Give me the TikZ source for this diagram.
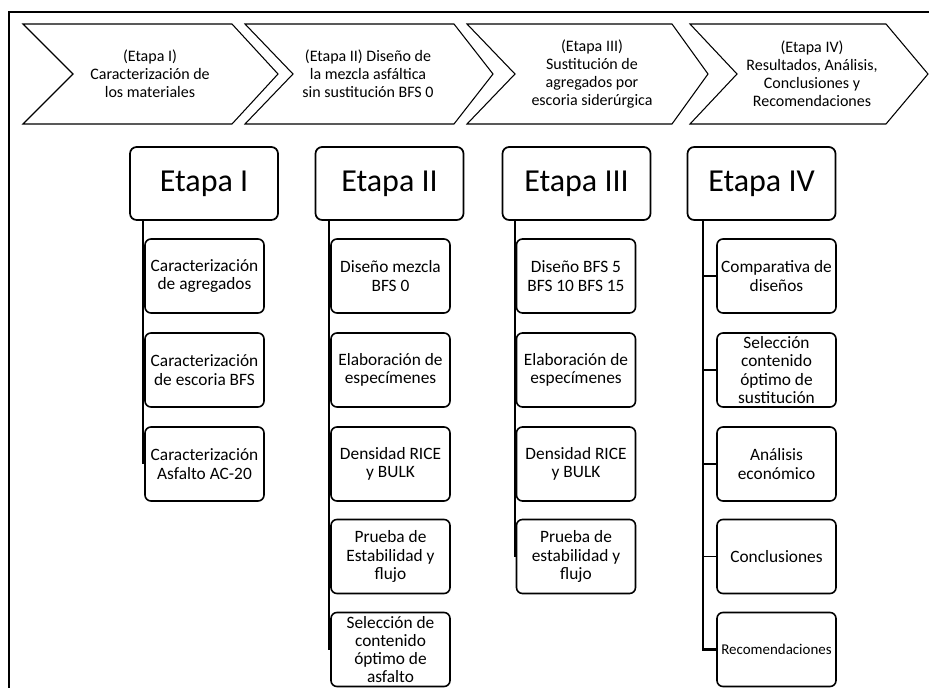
\documentclass[tikz,border=0pt]{standalone}
\usepackage{fontspec}
\setmainfont{Carlito}
\begin{document}
\begin{tikzpicture}[x=0.75pt,y=-0.75pt,
  chev/.style={draw,line width=0.8pt,line join=miter},
  chevtext/.style={align=center,font=\fontsize{12}{13.5}\selectfont,inner sep=0pt},
  head/.style={draw,line width=1.3pt,rounded corners=5pt,minimum width=111pt,minimum height=54.75pt,font=\fontsize{24}{28}\selectfont,inner sep=0pt},
  child/.style={draw,line width=1.2pt,rounded corners=4.5pt,minimum width=89.25pt,minimum height=55.5pt,align=center,font=\fontsize{13}{13.7}\selectfont,inner sep=0pt},
  trunk/.style={line width=1.4pt},
  trunkiv/.style={line width=2pt},
  stub/.style={line width=0.8pt}]
\useasboundingbox (0,0) rectangle (929,688);
% frame
\draw[line width=1.2pt] (9,688) -- (9,12) -- (929,12);
% chevrons
\draw[chev] (23,24) -- (232,24) -- (278,74) -- (232,124) -- (23,124) -- (73,74) -- cycle;
\draw[chev] (245,24) -- (454,24) -- (493,74) -- (454,124) -- (245,124) -- (293,74) -- cycle;
\draw[chev] (467,24) -- (672,24) -- (708,74) -- (672,124) -- (467,124) -- (515,74) -- cycle;
\draw[chev] (690,24) -- (886,24) -- (928,74) -- (886,124) -- (690,124) -- (737,74) -- cycle;
\node[chevtext] (s1) at (150,74) {(Etapa I)\\Caracterización de\\los materiales};
\node[chevtext] (s2) at (368,74) {(Etapa II) Diseño de\\la mezcla asfáltica\\sin sustitución BFS 0};
\node[chevtext] (s3) at (592,74) {(Etapa III)\\Sustitución de\\agregados por\\escoria siderúrgica};
\node[chevtext] (s4) at (812,74) {(Etapa IV)\\Resultados, Análisis,\\Conclusiones y\\Recomendaciones};
% headers
\node[head] (h1) at (204,183.5) {Etapa I};
\node[head] (h2) at (389.5,183.5) {Etapa II};
\node[head] (h3) at (576.5,183.5) {Etapa III};
\node[head] (h4) at (761.5,183.5) {Etapa IV};
% column I
\node[child] (c11) at (204.5,276) {Caracterización\\de agregados};
\node[child] (c12) at (204.5,370) {Caracterización\\de escoria BFS};
\node[child] (c13) at (204.5,464) {Caracterización\\Asfalto AC-20};
% column II
\node[child] (c21) at (390.5,276) {Diseño mezcla\\BFS 0};
\node[child] (c22) at (390.5,370) {Elaboración de\\especímenes};
\node[child] (c23) at (390.5,464) {Densidad RICE\\y BULK};
\node[child] (c24) at (390.5,556.5) {Prueba de\\Estabilidad y\\flujo};
\node[child] (c25) at (390.5,649.5) {Selección de\\contenido\\óptimo de\\asfalto};
% column III
\node[child] (c31) at (576,276) {Diseño BFS 5\\BFS 10 BFS 15};
\node[child] (c32) at (576,370) {Elaboración de\\especímenes};
\node[child] (c33) at (576,464) {Densidad RICE\\y BULK};
\node[child] (c34) at (576,556.5) {Prueba de\\estabilidad y\\flujo};
% column IV
\node[child] (c41) at (776.5,276) {Comparativa de\\diseños};
\node[child] (c42) at (776.5,370) {Selección\\contenido\\óptimo de\\sustitución};
\node[child] (c43) at (776.5,464) {Análisis\\económico};
\node[child] (c44) at (776.5,556.5) {Conclusiones};
\node[child,font=\fontsize{11.2}{13}\selectfont] (c45) at (776.5,649.5) {Recomendaciones};
% trunks
\draw[trunk] ([xshift=-0.6pt]h1.south -| c11.west) -- ([xshift=-0.6pt]c13.west);
\draw[trunk] ([xshift=-0.6pt]h2.south -| c21.west) -- ([xshift=-0.6pt]c25.west);
\draw[trunk] ([xshift=-0.6pt]h3.south -| c31.west) -- ([xshift=-0.6pt]c34.west);
\coordinate (t4) at (703,220);
\draw[trunkiv] (t4 |- h4.south) -- (t4 |- c45.west) -- (c45.west);
\draw[stub] (t4 |- c41.west) -- (c41.west);
\draw[stub] (t4 |- c42.west) -- (c42.west);
\draw[stub] (t4 |- c43.west) -- (c43.west);
\draw[stub] (t4 |- c44.west) -- (c44.west);
\end{tikzpicture}
\end{document}
